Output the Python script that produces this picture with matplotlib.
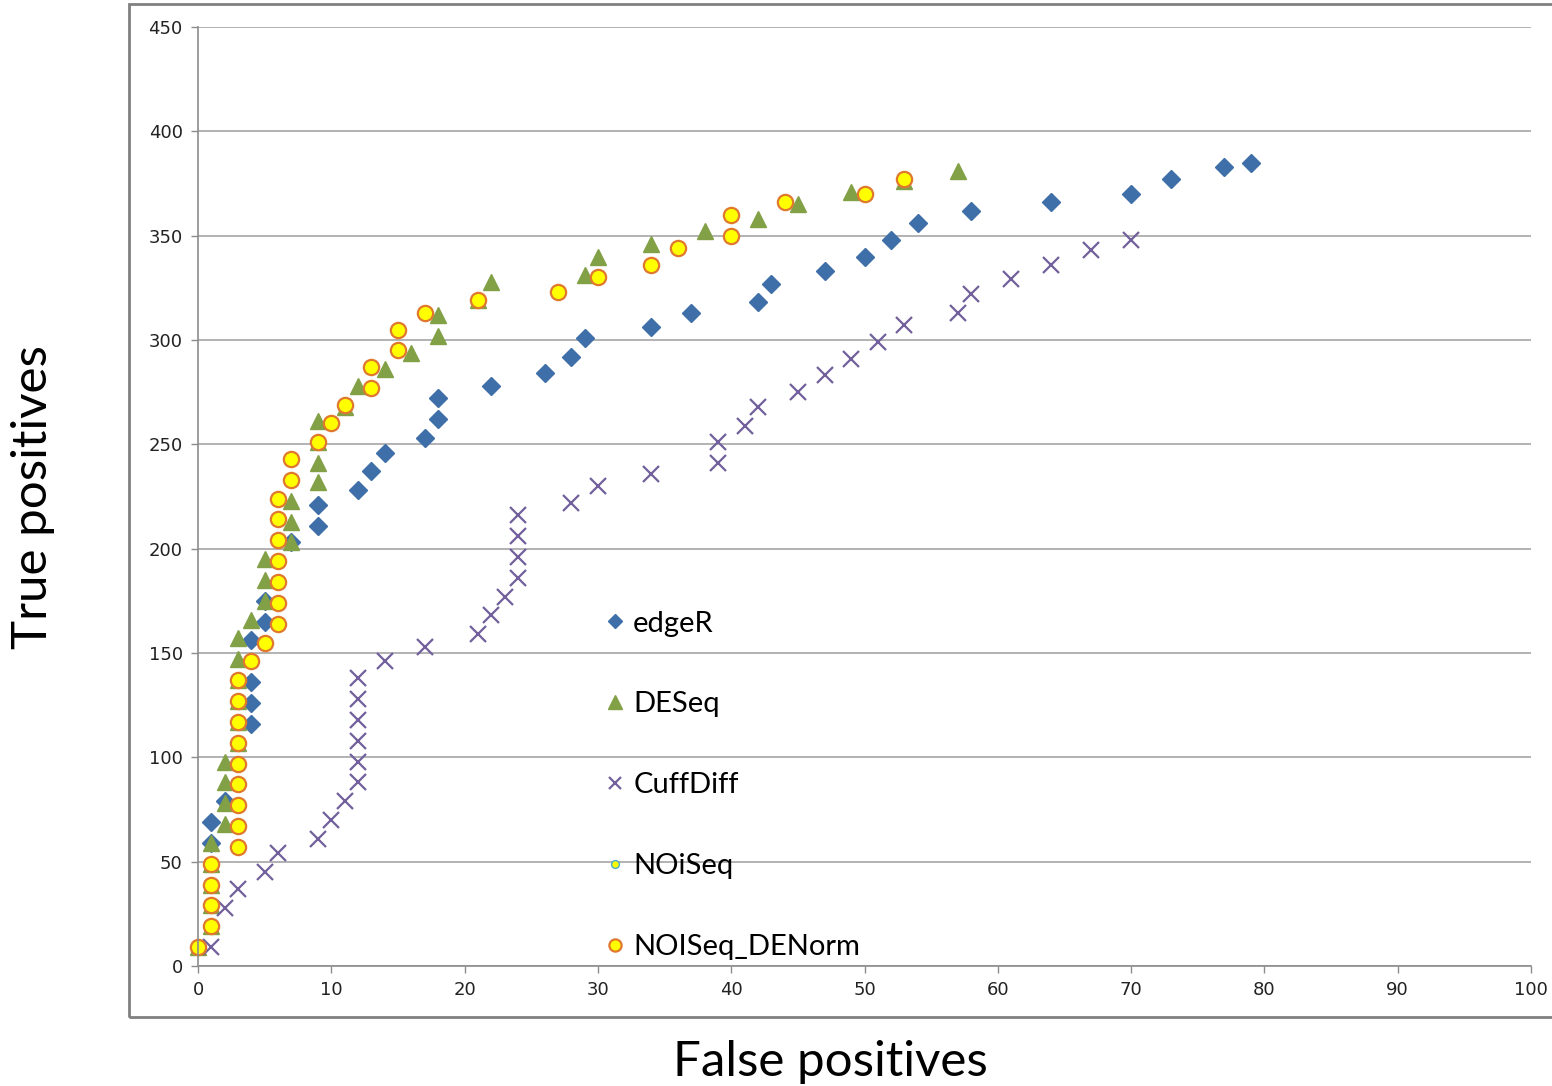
import numpy as np
import matplotlib
matplotlib.use("Agg")
from matplotlib import pyplot as plt
from matplotlib.patches import Rectangle

# edgeR (false positives, true positives)
edger_fp = [1, 1, 2, 4, 4, 4, 4, 5, 5, 7, 9, 9, 12, 13, 14, 17, 18, 18, 22, 26,
            28, 29, 34, 37, 42, 43, 47, 50, 52, 54, 58, 64, 70, 73, 77, 79]
edger_tp = [59, 69, 79, 116, 126, 136, 156, 165, 175, 203, 211, 221, 228, 237, 246, 253, 262, 272, 278, 284,
            292, 301, 306, 313, 318, 327, 333, 340, 348, 356, 362, 366, 370, 377, 383, 385]

# DESeq
deseq_fp = [0, 1, 1, 1, 1, 1, 2, 2, 2, 2, 3, 3, 3, 3, 3, 3, 4, 5, 5, 5, 7, 7, 7,
            9, 9, 9, 9, 11, 12, 14, 16, 18, 18, 21, 22, 29, 30, 34, 38, 42, 45, 49, 53, 57]
deseq_tp = [9, 19, 29, 39, 49, 59, 68, 78, 88, 98, 107, 117, 127, 137, 147, 157, 166, 175, 185, 195, 203, 213, 223,
            232, 241, 251, 261, 268, 278, 286, 294, 302, 312, 319, 328, 331, 340, 346, 352, 358, 365, 371, 376, 381]

# CuffDiff
cuff_fp = [1, 2, 3, 5, 6, 9, 10, 11, 12, 12, 12, 12, 12, 12, 14, 17, 21, 22, 23, 24, 24, 24, 24,
           28, 30, 34, 39, 39, 41, 42, 45, 47, 49, 51, 53, 57, 58, 61, 64, 67, 70]
cuff_tp = [9, 28, 37, 45, 54, 61, 70, 79, 88, 98, 108, 118, 128, 138, 146, 153, 159, 168, 177, 186, 196, 206, 216,
           222, 230, 236, 241, 251, 259, 268, 275, 283, 291, 299, 307, 313, 322, 329, 336, 343, 348]

# NOiSeq (no points visible in the chart, only in the legend)
noiseq_fp = []
noiseq_tp = []

# NOISeq_DENorm
denorm_fp = [0, 1, 1, 1, 1, 3, 3, 3, 3, 3, 3, 3, 3, 3, 4, 5, 6, 6, 6, 6, 6, 6, 6, 7, 7,
             9, 10, 11, 13, 13, 15, 15, 17, 21, 27, 30, 34, 36, 40, 40, 44, 50, 53]
denorm_tp = [9, 19, 29, 39, 49, 57, 67, 77, 87, 97, 107, 117, 127, 137, 146, 155, 164, 174, 184, 194, 204, 214, 224, 233, 243,
             251, 260, 269, 277, 287, 295, 305, 313, 319, 323, 330, 336, 344, 350, 360, 366, 370, 377]

x_ticks = list(range(0, 101, 10))
y_ticks = list(range(0, 451, 50))

fig = plt.figure(figsize=(15.52, 10.86), dpi=100)
ax = fig.add_axes([198 / 1552, 1 - 966 / 1086, 1333 / 1552, 939 / 1086])

grey = "#8c8c8c"
ax.grid(axis="y", color="#a6a6a6", linewidth=1.2)
ax.set_axisbelow(True)

ax.plot(edger_fp, edger_tp, "D", ms=9, color="#3f6fa8", mec="#3f6fa8", clip_on=False, label="edgeR")
ax.plot(deseq_fp, deseq_tp, "^", ms=12, color="#82a046", mec="#82a046", clip_on=False, label="DESeq")
ax.plot(cuff_fp, cuff_tp, "x", ms=11, mew=1.6, color="#71609c", clip_on=False, label="CuffDiff")
ax.plot(noiseq_fp, noiseq_tp, "o", ms=7, mfc="#ffff00", mec="#4bacc6", mew=1, label="NOiSeq")
ax.plot(denorm_fp, denorm_tp, "o", ms=11, mfc="#ffff00", mec="#e0782e", mew=1.6, clip_on=False,
        label="NOISeq_DENorm")

ax.set_xlim(0, 100)
ax.set_ylim(0, 450)
ax.set_xticks(x_ticks)
ax.set_yticks(y_ticks)
ax.tick_params(axis="both", direction="out", length=5, width=1, color=grey,
               labelsize=13, labelcolor="#222222", pad=6)
for s in ["top", "right"]:
    ax.spines[s].set_visible(False)
for s in ["left", "bottom"]:
    ax.spines[s].set_color(grey)
    ax.spines[s].set_linewidth(1.2)

leg = ax.legend(loc="center left", bbox_to_anchor=(0.3042, 0.1925), frameon=False,
                prop={"family": "Lato", "size": 21}, handlelength=0.8, handletextpad=0.22,
                labelspacing=1.88, borderpad=0, borderaxespad=0, markerscale=0.8)

fig.text(33 / 1552, 1 - 497 / 1086, "True positives", rotation=90, ha="center", va="center",
         fontsize=35.5, family="Lato")
fig.text(830 / 1552, 1 - 1062 / 1086, "False positives", ha="center", va="center",
         fontsize=35.5, family="Lato")

# chart area border
fig.patches.append(Rectangle((129 / 1552, 1 - 1017 / 1086), 1.0, (1017 - 4) / 1086,
                             transform=fig.transFigure, fill=False, edgecolor="#808080", linewidth=2))

fig.savefig("out.png", dpi=100)
